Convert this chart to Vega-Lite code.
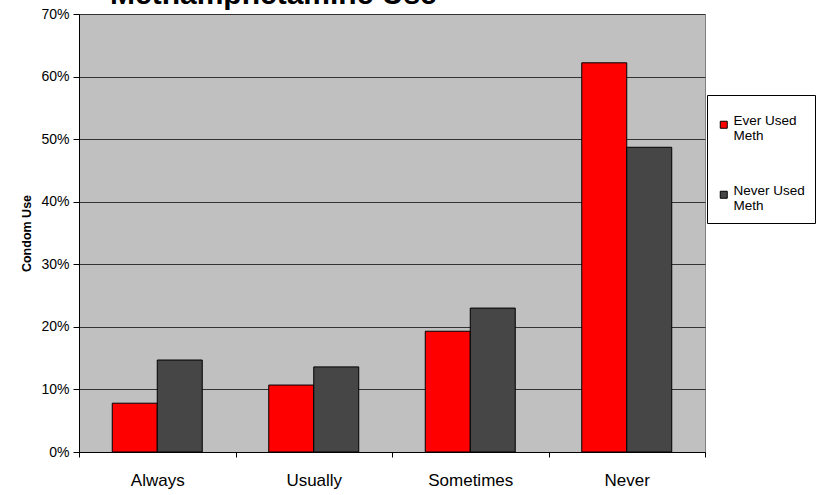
{
  "$schema": "https://vega.github.io/schema/vega-lite/v6.json",
  "width": 626,
  "height": 438,
  "autosize": {"type": "none"},
  "padding": {"left": 79, "top": 14, "right": 115, "bottom": 43},
  "background": "white",
  "title": {
    "text": "Methamphetamine Use",
    "font": "Liberation Sans",
    "fontSize": 30,
    "fontWeight": "bold",
    "color": "black",
    "anchor": "start",
    "frame": "group",
    "dx": 31,
    "dy": 27,
    "baseline": "alphabetic",
    "offset": 0
  },
  "config": {
    "font": "Liberation Sans",
    "view": {"fill": "#C0C0C0", "stroke": "#808080", "strokeWidth": 1}
  },
  "data": {
    "values": [
      {"use": "Always", "group": "Ever Used Meth", "pct": 0.078},
      {"use": "Always", "group": "Never Used Meth", "pct": 0.147},
      {"use": "Usually", "group": "Ever Used Meth", "pct": 0.107},
      {"use": "Usually", "group": "Never Used Meth", "pct": 0.136},
      {"use": "Sometimes", "group": "Ever Used Meth", "pct": 0.193},
      {"use": "Sometimes", "group": "Never Used Meth", "pct": 0.230},
      {"use": "Never", "group": "Ever Used Meth", "pct": 0.622},
      {"use": "Never", "group": "Never Used Meth", "pct": 0.487}
    ]
  },
  "mark": {"type": "bar", "stroke": "black", "strokeWidth": 1},
  "encoding": {
    "x": {
      "field": "use",
      "type": "nominal",
      "sort": ["Always", "Usually", "Sometimes", "Never"],
      "scale": {"paddingInner": 0, "paddingOuter": 0},
      "axis": {
        "title": null,
        "labelAngle": 0,
        "labelFontSize": 17,
        "labelColor": "black",
        "labelPadding": 15,
        "tickBand": "extent",
        "tickSize": 5,
        "tickColor": "black",
        "domainColor": "black",
        "grid": false
      }
    },
    "xOffset": {
      "field": "group",
      "type": "nominal",
      "scale": {"paddingOuter": 0.739, "paddingInner": 0}
    },
    "y": {
      "field": "pct",
      "type": "quantitative",
      "scale": {"domain": [0, 0.7], "nice": false},
      "axis": {
        "title": "Condom Use",
        "titleFontSize": 12.5,
        "titleFontWeight": "bold",
        "titleColor": "black",
        "titlePadding": 7,
        "format": ".0%",
        "values": [0, 0.1, 0.2, 0.3, 0.4, 0.5, 0.6, 0.7],
        "labelFontSize": 14,
        "labelColor": "black",
        "labelPadding": 4,
        "tickSize": 6,
        "tickColor": "black",
        "domainColor": "black",
        "grid": true,
        "gridColor": "#333333",
        "gridWidth": 1
      }
    },
    "color": {
      "field": "group",
      "type": "nominal",
      "scale": {"domain": ["Ever Used Meth", "Never Used Meth"], "range": ["#FF0000", "#464646"]},
      "legend": {
        "title": " ",
        "titleFontSize": 1,
        "titlePadding": 12,
        "orient": "none",
        "legendX": 628,
        "legendY": 81,
        "padding": 10,
        "fillColor": "white",
        "strokeColor": "black",
        "symbolType": "square",
        "symbolSize": 49,
        "symbolStrokeColor": "black",
        "symbolStrokeWidth": 1,
        "symbolOpacity": 1,
        "labelFontSize": 13.5,
        "labelColor": "black",
        "labelLineHeight": 17,
        "labelOffset": 3,
        "labelBaseline": "alphabetic",
        "rowPadding": 40,
        "labelExpr": "[replace(datum.label, ' Meth', ''), 'Meth']"
      }
    }
  }
}
